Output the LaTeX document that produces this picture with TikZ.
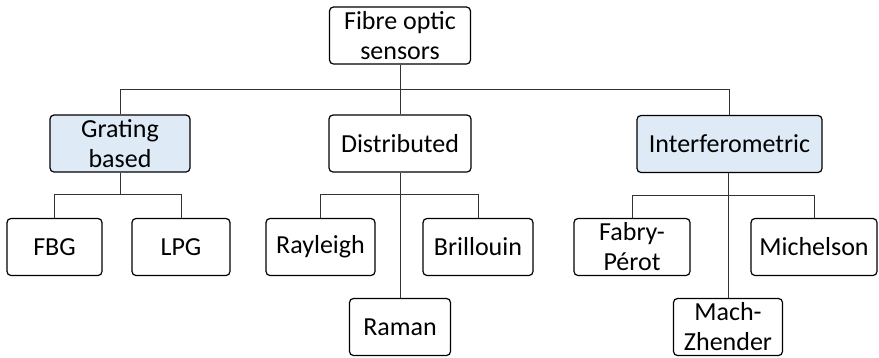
\documentclass[tikz,border=0pt]{standalone}
\usepackage{fontspec}
\setmainfont{Carlito}
\usepackage{xcolor}
\usepackage{tikz}
\usetikzlibrary{positioning}

\definecolor{lightblue}{HTML}{DEEBF7}

\begin{document}
\begin{tikzpicture}[x=1pt, y=1pt,
    box/.style={draw, line width=1.2pt, rounded corners=4pt, fill=white,
        align=center, inner sep=0pt, minimum height=57pt,
        font=\fontsize{26}{30}\selectfont},
    bluebox/.style={box, fill=lightblue},
    link/.style={line width=0.9pt, draw=black!80}]
    \useasboundingbox (0,0) rectangle (879,-357);

    % 1. Gốc
    \node[box, minimum width=141pt] (root) at (400,-35.5) {Fibre optic\\sensors};

    % 2. Ba nhánh chính
    \node[bluebox, minimum width=140pt] (grating) at (120,-143.5) {Grating\\based};
    \node[box, minimum width=142pt] (dist) at (400,-143.5) {Distributed};
    \node[bluebox, minimum width=185pt] (interf) at (729.5,-144) {Interferometric};

    % 3. Các lá
    \node[box, minimum width=95pt] (fbg) at (54.5,-247) {FBG};
    \node[box, minimum width=98pt] (lpg) at (181,-247) {LPG};
    \node[box, minimum width=109pt] (rayleigh) at (320.5,-247) {Rayleigh};
    \node[box, minimum width=110pt] (brillouin) at (478,-247) {Brillouin};
    \node[box, minimum width=101pt] (raman) at (400,-327) {Raman};
    \node[box, minimum width=116pt] (fabry) at (632,-247) {Fabry-\\Pérot};
    \node[box, minimum width=126pt] (michelson) at (814,-247) {Michelson};
    \node[box, minimum width=109pt] (mach) at (728,-327) {Mach-\\Zhender};

    % 4. Đường nối
    \coordinate (rootbar) at (400,-89);
    \coordinate (gratbar) at (120,-194);
    \coordinate (distbar) at (400,-194);
    \coordinate (interfbar) at (728,-195);
    \draw[link] (root) -- (rootbar) -| (grating);
    \draw[link] (rootbar) -- (dist);
    \draw[link] (rootbar) -| (interf);
    \draw[link] (grating) -- (gratbar) -| (fbg);
    \draw[link] (gratbar) -| (lpg);
    \draw[link] (dist) -- (raman);
    \draw[link] (distbar) -| (rayleigh);
    \draw[link] (distbar) -| (brillouin);
    \draw[link] (interf.south -| interfbar) -- (mach);
    \draw[link] (interfbar) -| (fabry);
    \draw[link] (interfbar) -| (michelson);
\end{tikzpicture}
\end{document}
